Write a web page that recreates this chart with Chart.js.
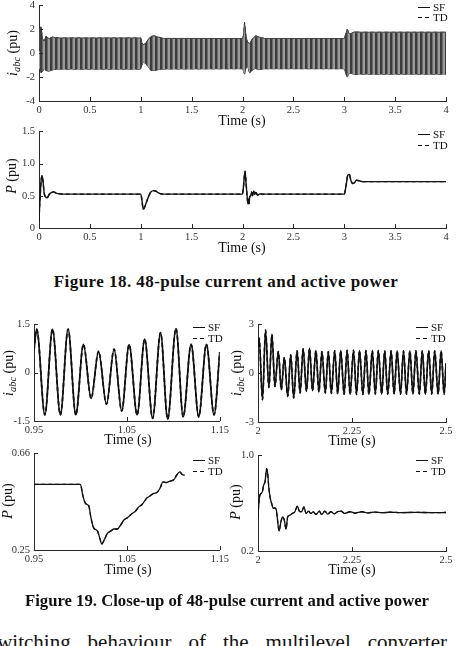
<!DOCTYPE html>
<html><head><meta charset="utf-8">
<script src="https://cdn.jsdelivr.net/npm/chart.js@4.4.1/dist/chart.umd.min.js"></script>
<style>
html,body{margin:0;padding:0;background:#fff;}
body{width:456px;height:646px;position:relative;overflow:hidden;font-family:"Liberation Serif","Times New Roman",serif;color:#111;}
canvas{position:absolute;}
.t{position:absolute;white-space:nowrap;line-height:1;}
.xt{font-size:14px;transform:translate(-50%,-50%);}
.yt{font-size:14px;transform:translate(-50%,-50%) rotate(-90deg);}
.yt sub{font-size:10.5px;font-style:italic;vertical-align:baseline;position:relative;top:3px;}
.leg{position:absolute;font-size:11px;line-height:1;}
.leg div{display:flex;align-items:center;height:10.5px;}
.sw{display:inline-block;width:12px;height:1.3px;background:#111;margin-right:3px;}
.sw.d{background:repeating-linear-gradient(90deg,#111 0 4px,transparent 4px 7px);}
.cap{position:absolute;font-weight:bold;white-space:nowrap;transform:translateX(-50%);line-height:1;}
.body{position:absolute;left:-11px;width:458px;top:632px;font-size:21px;line-height:1;text-align:justify;text-align-last:justify;white-space:nowrap;}
</style>
</head><body>
<canvas id="c1"></canvas><canvas id="c2"></canvas><canvas id="c3"></canvas>
<canvas id="c4"></canvas><canvas id="c5"></canvas><canvas id="c6"></canvas>

<div class="t yt" style="left:13px;top:53px"><i>i</i><sub>abc</sub> (pu)</div>
<div class="t xt" style="left:242px;top:121px">Time (s)</div>
<div class="leg" style="left:418px;top:2px"><div><span class="sw"></span>SF</div><div><span class="sw d"></span>TD</div></div>

<div class="t yt" style="left:12px;top:176px"><i>P</i> (pu)</div>
<div class="t xt" style="left:242px;top:248px">Time (s)</div>
<div class="leg" style="left:418px;top:129.5px"><div><span class="sw"></span>SF</div><div><span class="sw d"></span>TD</div></div>

<div class="cap" style="left:226px;top:273px;font-size:17px;letter-spacing:0.45px">Figure 18. 48-pulse current and active power</div>

<div class="t yt" style="left:9px;top:373px"><i>i</i><sub>abc</sub> (pu)</div>
<div class="t xt" style="left:128px;top:440px">Time (s)</div>
<div class="leg" style="left:193px;top:322.5px"><div><span class="sw"></span>SF</div><div><span class="sw d"></span>TD</div></div>

<div class="t yt" style="left:237px;top:373px"><i>i</i><sub>abc</sub> (pu)</div>
<div class="t xt" style="left:352px;top:441px">Time (s)</div>
<div class="leg" style="left:416px;top:322.5px"><div><span class="sw"></span>SF</div><div><span class="sw d"></span>TD</div></div>

<div class="t yt" style="left:8px;top:501px"><i>P</i> (pu)</div>
<div class="t xt" style="left:128px;top:570px">Time (s)</div>
<div class="leg" style="left:193px;top:455.5px"><div><span class="sw"></span>SF</div><div><span class="sw d"></span>TD</div></div>

<div class="t yt" style="left:236px;top:502px"><i>P</i> (pu)</div>
<div class="t xt" style="left:352px;top:570px">Time (s)</div>
<div class="leg" style="left:416px;top:455.5px"><div><span class="sw"></span>SF</div><div><span class="sw d"></span>TD</div></div>

<div class="cap" style="left:227px;top:593px;font-size:16.7px">Figure 19. Close-up of 48-pulse current and active power</div>
<div class="body">switching behaviour of the multilevel converter</div>

<script>
// ---------- DATA ----------
// Fig 18 top: current envelope over 0-4 s (upper / lower peaks of i_abc)
const envT  = [0,0.008,0.02,0.035,0.05,0.07,0.1,0.13,0.16,0.2,1.0,1.01,1.025,1.045,1.07,1.1,1.13,1.17,1.22,2.0,2.01,2.02,2.035,2.05,2.07,2.09,2.11,2.13,2.16,2.22,3.0,3.015,3.03,3.05,3.07,3.1,3.15,4.0];
const envUp = [0.2,2.1,2.2,1.2,1.0,1.42,1.2,1.35,1.3,1.27,1.27,0.9,0.7,0.8,1.1,1.4,1.45,1.35,1.23,1.22,1.5,2.6,1.4,0.9,0.8,1.1,1.3,1.45,1.35,1.22,1.22,1.6,2.0,1.6,1.65,1.78,1.75,1.75];
const envLo = [-0.5,-1.3,-1.65,-1.5,-1.3,-1.45,-1.5,-1.4,-1.35,-1.33,-1.33,-1.0,-0.75,-0.85,-1.1,-1.45,-1.45,-1.38,-1.32,-1.3,-1.5,-1.75,-1.2,-1.1,-1.65,-1.5,-1.3,-1.3,-1.38,-1.3,-1.3,-1.7,-2.0,-1.65,-1.7,-1.78,-1.75,-1.75];

// Fig 18 bottom: active power 0-4 s  [t, P]
const pFull = [[0,0.1],[0.005,0.3],[0.012,0.5],[0.02,0.72],[0.03,0.81],[0.04,0.72],[0.05,0.55],[0.065,0.48],[0.08,0.47],[0.1,0.52],[0.12,0.55],[0.145,0.56],[0.17,0.54],[0.2,0.53],[0.3,0.525],[1.0,0.525],[1.01,0.45],[1.025,0.29],[1.04,0.33],[1.06,0.42],[1.08,0.5],[1.1,0.56],[1.125,0.58],[1.15,0.57],[1.18,0.54],[1.22,0.525],[1.3,0.525],[2.0,0.525],[2.01,0.65],[2.025,0.88],[2.035,0.7],[2.045,0.5],[2.055,0.37],[2.06,0.45],[2.065,0.38],[2.07,0.48],[2.08,0.5],[2.09,0.56],[2.1,0.5],[2.11,0.57],[2.12,0.52],[2.13,0.55],[2.15,0.51],[2.17,0.53],[2.2,0.525],[2.3,0.525],[3.0,0.525],[3.02,0.68],[3.035,0.82],[3.05,0.83],[3.065,0.74],[3.08,0.69],[3.1,0.7],[3.12,0.74],[3.15,0.73],[3.18,0.72],[3.22,0.72],[3.3,0.72],[4.0,0.72]];

// Fig 19 top-left: current 0.95-1.15 s (peaks and troughs)  [t, i]
const iZoom1 = [[0.95,0.7],[0.9529,1.35],[0.9617,-1.31],[0.9699,1.35],[0.9784,-1.31],[0.9867,1.35],[0.995,-1.31],[1.0032,0.88],[1.0115,-0.8],[1.0195,0.66],[1.028,-0.98],[1.0362,0.73],[1.0444,-1.19],[1.0524,0.87],[1.061,-1.31],[1.0691,1.04],[1.0777,-1.42],[1.0862,1.24],[1.0939,-1.44],[1.1028,1.37],[1.1106,-1.37],[1.1191,0.88],[1.1273,-1.37],[1.1356,0.88],[1.1438,-1.31],[1.15,0.64]];

// Fig 19 top-right: current 2.0-2.5 s (peaks and troughs)  [t, i]
const iZoom2 = [[2.0,1.6],[2.003,2.15],[2.012,-1.63],[2.02,2.65],[2.029,-0.88],[2.037,2.39],[2.045,-0.82],[2.054,1.33],[2.062,-1.02],[2.07,0.96],[2.079,-1.43],[2.087,1.12],[2.095,-1.53],[2.104,1.37],[2.112,-1.22],[2.12,1.49],[2.129,-1.12],[2.137,1.53],[2.145,-1.08],[2.154,1.39],[2.162,-1.16],[2.17,1.33],[2.179,-1.22],[2.187,1.33],[2.195,-1.25],[2.204,1.37],[2.212,-1.27],[2.22,1.39],[2.229,-1.29],[2.237,1.41],[2.245,-1.31],[2.254,1.41],[2.262,-1.31],[2.27,1.39],[2.279,-1.31],[2.287,1.39],[2.295,-1.31],[2.304,1.39],[2.312,-1.29],[2.32,1.39],[2.329,-1.29],[2.337,1.37],[2.345,-1.29],[2.354,1.37],[2.362,-1.29],[2.37,1.37],[2.379,-1.29],[2.387,1.37],[2.395,-1.29],[2.404,1.37],[2.412,-1.29],[2.42,1.37],[2.429,-1.29],[2.437,1.37],[2.445,-1.29],[2.454,1.37],[2.462,-1.29],[2.47,1.37],[2.479,-1.29],[2.487,1.37],[2.495,-1.29],[2.5,0.6]];

// Fig 19 bottom-left: power 0.95-1.15 s  [t, P]
const pZoom1 = [[0.95,0.528],[1.0,0.528],[1.0025,0.482],[1.0055,0.447],[1.009,0.437],[1.0111,0.391],[1.0142,0.344],[1.0184,0.33],[1.0209,0.299],[1.023,0.275],[1.0255,0.292],[1.029,0.32],[1.0326,0.33],[1.0362,0.339],[1.0397,0.339],[1.0433,0.356],[1.0468,0.377],[1.0504,0.387],[1.0557,0.405],[1.0585,0.412],[1.0628,0.433],[1.0663,0.443],[1.0716,0.471],[1.0752,0.48],[1.0787,0.49],[1.0823,0.494],[1.0858,0.513],[1.0887,0.539],[1.0918,0.536],[1.0965,0.542],[1.1007,0.549],[1.1035,0.567],[1.107,0.581],[1.1096,0.57],[1.1124,0.567]];

// Fig 19 bottom-right: power 2.0-2.5 s  [t, P]
const pZoom2 = [[2.0,0.48],[2.001,0.542],[2.0035,0.64],[2.006,0.672],[2.0115,0.694],[2.015,0.75],[2.0186,0.778],[2.023,0.889],[2.0257,0.847],[2.029,0.722],[2.032,0.653],[2.0363,0.597],[2.041,0.556],[2.045,0.561],[2.0488,0.542],[2.052,0.458],[2.056,0.367],[2.061,0.444],[2.0656,0.486],[2.07,0.458],[2.0745,0.383],[2.079,0.486],[2.085,0.5],[2.091,0.514],[2.098,0.528],[2.1046,0.575],[2.11,0.533],[2.116,0.528],[2.122,0.569],[2.128,0.514],[2.134,0.533],[2.141,0.514],[2.147,0.528],[2.154,0.506],[2.163,0.533],[2.169,0.506],[2.178,0.533],[2.185,0.508],[2.194,0.528],[2.203,0.511],[2.212,0.53],[2.221,0.533],[2.23,0.514],[2.245,0.528],[2.258,0.517],[2.276,0.528],[2.293,0.519],[2.31,0.525],[2.33,0.52],[2.35,0.524],[2.38,0.521],[2.42,0.523],[2.46,0.521],[2.5,0.522]];

// Tick values and labels
const x1Ticks = [0,0.5,1,1.5,2,2.5,3,3.5,4], x1Labels = ['0','0.5','1','1.5','2','2.5','3','3.5','4'];
const y1Ticks = [-4,-2,0,2,4], y1Labels = ['-4','-2','0','2','4'];
const y2Ticks = [0,0.5,1,1.5], y2Labels = ['0','0.5','1.0','1.5'];
const x3Ticks = [0.95,1.05,1.15], x3Labels = ['0.95','1.05','1.15'];
const y3Ticks = [-1.5,0,1.5], y3Labels = ['-1.5','0','1.5'];
const x4Ticks = [2,2.25,2.5], x4Labels = ['2','2.25','2.5'];
const y4Ticks = [-3,0,3], y4Labels = ['-3','0','3'];
const y5Ticks = [0.25,0.66], y5Labels = ['0.25','0.66'];
const y6Ticks = [0.2,1.0], y6Labels = ['0.2','1.0'];

// ---------- CHARTS ----------
const FONT = '"Liberation Serif", "Times New Roman", serif';
const inwardTicks = {
  id: 'inwardTicks',
  afterDraw(chart) {
    const {ctx, chartArea: a, scales} = chart;
    ctx.save();
    ctx.strokeStyle = '#2a2a2a'; ctx.lineWidth = 1;
    ctx.beginPath();
    scales.x.ticks.forEach(t => { const px = Math.round(scales.x.getPixelForValue(t.value)) + 0.5; ctx.moveTo(px, a.bottom); ctx.lineTo(px, a.bottom - 4); });
    scales.y.ticks.forEach(t => { const py = Math.round(scales.y.getPixelForValue(t.value)) + 0.5; ctx.moveTo(a.left, py); ctx.lineTo(a.left + 4, py); });
    ctx.stroke();
    ctx.restore();
  }
};

function axis(ax, isX, yw) {
  return {
    type: 'linear', min: ax.min, max: ax.max,
    grid: {display: false, drawTicks: false},
    border: {display: true, color: '#2a2a2a', width: 1},
    ticks: {autoSkip: false, maxRotation: 0, minRotation: 0, padding: isX ? 3 : 4, color: '#333',
            font: {family: FONT, size: 10.5}, callback: (v, i) => ax.labels[i]},
    afterBuildTicks: s => { s.ticks = ax.ticks.map(v => ({value: v})); },
    afterFit: s => { if (isX) s.height = 20; else s.width = yw; }
  };
}

function build(id, g, xs, ys, datasets) {
  const cv = document.getElementById(id);
  const top = g.pT - 10, w = g.pR + 10 - g.cl, h = g.pB + 20 - top;
  cv.width = w; cv.height = h;
  cv.style.left = g.cl + 'px'; cv.style.top = top + 'px';
  cv.style.width = w + 'px'; cv.style.height = h + 'px';
  return new Chart(cv, {
    type: 'line',
    data: {datasets},
    options: {
      responsive: false, animation: false, devicePixelRatio: 1,
      layout: {padding: {top: 10, right: 10, left: 0, bottom: 0}},
      plugins: {legend: {display: false}, tooltip: {enabled: false}},
      elements: {point: {radius: 0}},
      scales: {x: axis(xs, true), y: axis(ys, false, g.pL - g.cl)}
    },
    plugins: [inwardTicks]
  });
}

const pts = arr => arr.map(([x, y]) => ({x, y}));
const line = (label, arr, dash, w) => ({
  label, data: pts(arr), borderColor: '#111', borderWidth: w || 1.4,
  borderDash: dash ? [4, 3] : [], pointRadius: 0, fill: false, cubicInterpolationMode: 'monotone'
});

// striped fill that imitates the densely packed 60 Hz cycles of the full-time current trace
function stripePattern() {
  const c = document.createElement('canvas'); c.width = 5; c.height = 4;
  const x = c.getContext('2d');
  x.fillStyle = '#9a9a9a'; x.fillRect(0, 0, 5, 4);
  x.fillStyle = '#3c3c3c'; x.fillRect(0, 0, 2, 4);
  x.fillStyle = '#6a6a6a'; x.fillRect(2, 0, 1, 4);
  return x.createPattern(c, 'repeat');
}

// Fig 18 top
const upPts = envT.map((t, i) => ({x: t, y: envUp[i]}));
const loPts = envT.map((t, i) => ({x: t, y: envLo[i]}));
build('c1', {cl: 0, pL: 39, pT: 5, pR: 446, pB: 101},
  {min: 0, max: 4, ticks: x1Ticks, labels: x1Labels},
  {min: -4, max: 4, ticks: y1Ticks, labels: y1Labels},
  [
    {label: 'SF', data: upPts, borderColor: '#444', borderWidth: 1, pointRadius: 0, tension: 0, fill: '+1', backgroundColor: stripePattern()},
    {label: 'SF', data: loPts, borderColor: '#444', borderWidth: 1, pointRadius: 0, tension: 0, fill: false},
    {label: 'TD', data: upPts, borderColor: '#444', borderWidth: 1, borderDash: [4, 3], pointRadius: 0, tension: 0, fill: false},
    {label: 'TD', data: loPts, borderColor: '#444', borderWidth: 1, borderDash: [4, 3], pointRadius: 0, tension: 0, fill: false}
  ]);

// Fig 18 bottom
build('c2', {cl: 0, pL: 39, pT: 131, pR: 446, pB: 228},
  {min: 0, max: 4, ticks: x1Ticks, labels: x1Labels},
  {min: 0, max: 1.5, ticks: y2Ticks, labels: y2Labels},
  [line('SF', pFull, false, 1.4), line('TD', pFull, true, 1.4)]);

// Fig 19
build('c3', {cl: 0, pL: 34, pT: 324, pR: 222, pB: 421},
  {min: 0.95, max: 1.15, ticks: x3Ticks, labels: x3Labels},
  {min: -1.5, max: 1.5, ticks: y3Ticks, labels: y3Labels},
  [line('SF', iZoom1, false, 1.7), line('TD', iZoom1, true, 1.7)]);

build('c4', {cl: 225, pL: 258, pT: 324, pR: 446, pB: 422},
  {min: 2, max: 2.5, ticks: x4Ticks, labels: x4Labels},
  {min: -3, max: 3, ticks: y4Ticks, labels: y4Labels},
  [line('SF', iZoom2, false, 1.6), line('TD', iZoom2, true, 1.6)]);

build('c5', {cl: 0, pL: 34, pT: 453, pR: 222, pB: 550},
  {min: 0.95, max: 1.15, ticks: x3Ticks, labels: x3Labels},
  {min: 0.25, max: 0.66, ticks: y5Ticks, labels: y5Labels},
  [line('SF', pZoom1, false, 1.3), line('TD', pZoom1, true, 1.3)]);

build('c6', {cl: 225, pL: 258, pT: 455, pR: 446, pB: 551},
  {min: 2, max: 2.5, ticks: x4Ticks, labels: x4Labels},
  {min: 0.2, max: 1.0, ticks: y6Ticks, labels: y6Labels},
  [line('SF', pZoom2, false, 1.3), line('TD', pZoom2, true, 1.3)]);
</script>
</body></html>
